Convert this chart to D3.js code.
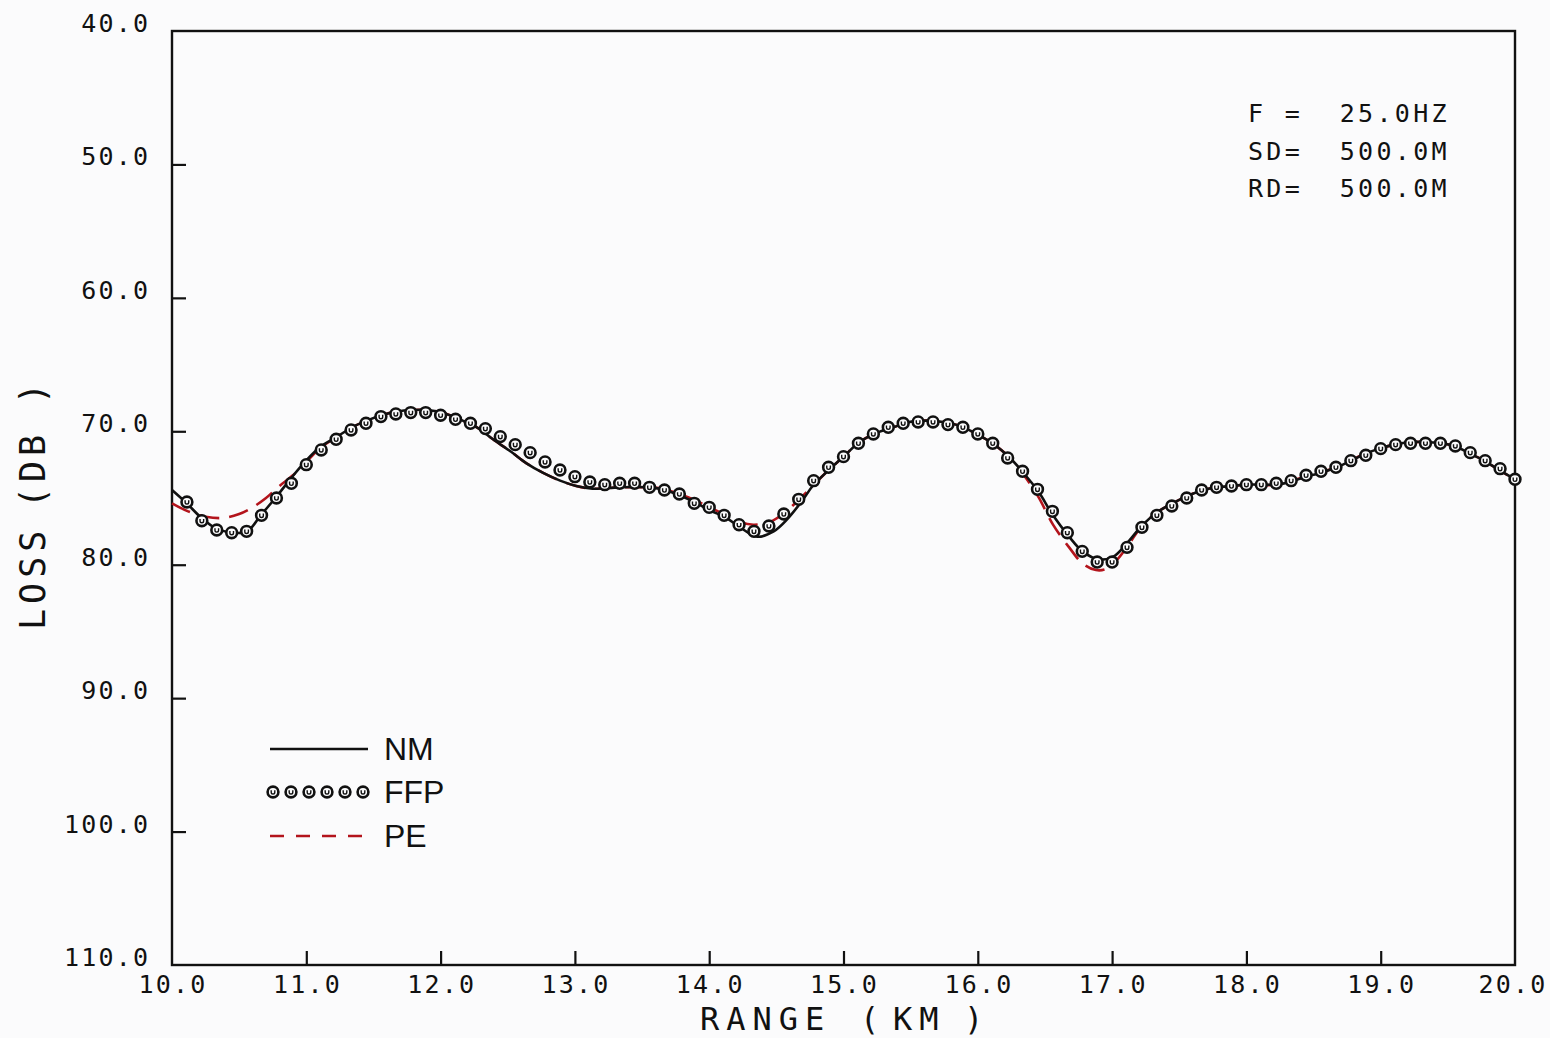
<!DOCTYPE html>
<html>
<head>
<meta charset="utf-8">
<script src="https://cdn.jsdelivr.net/npm/d3@7"></script>
<style>
  html, body { margin: 0; padding: 0; background: #fbfbfc; }
  svg { display: block; }
  .mono { font-family: "DejaVu Sans Mono", "Liberation Mono", monospace; fill: #111; }
  .sans { font-family: "Liberation Sans", Arial, sans-serif; fill: #111; }
</style>
</head>
<body>
<svg id="chart" width="1550" height="1038"></svg>
<script>
// Transmission loss vs range, three propagation models
const xTicks = [10, 11, 12, 13, 14, 15, 16, 17, 18, 19, 20];
const yTicks = [40, 50, 60, 70, 80, 90, 100, 110];

// Normal mode (NM) solution
const nmRange = [10.00,10.11,10.22,10.33,10.45,10.56,10.66,10.77,10.88,10.99,11.10,11.23,11.34,11.45,11.56,11.68,11.79,11.90,12.01,12.14,12.27,12.39,12.52,12.64,12.76,12.89,13.01,13.13,13.33,13.54,13.65,13.88,14.00,14.13,14.23,14.36,14.48,14.58,14.70,14.77,14.88,15.00,15.12,15.25,15.37,15.49,15.62,15.74,15.87,15.99,16.11,16.24,16.33,16.45,16.56,16.68,16.78,16.90,17.01,17.11,17.22,17.33,17.45,17.57,17.68,17.78,17.89,18.01,18.12,18.21,18.33,18.44,18.56,18.67,18.78,18.88,18.99,19.10,19.22,19.33,19.45,19.55,19.65,19.77,19.88,20.00];
const nmLoss = [74.4,75.4,76.5,77.3,77.6,77.5,76.3,75.0,73.6,72.3,71.2,70.4,69.7,69.2,68.8,68.5,68.4,68.4,68.6,69.1,69.7,70.6,71.5,72.4,73.1,73.7,74.1,74.3,74.2,74.2,74.35,75.25,75.9,76.5,77.2,77.9,77.5,76.6,75.1,74.1,73.0,71.9,70.8,70.1,69.7,69.3,69.2,69.3,69.6,70.2,70.9,72.0,73.0,74.5,76.3,77.9,79.0,79.6,79.4,78.4,77.1,76.1,75.4,74.8,74.4,74.2,74.1,74.0,74.0,74.0,73.8,73.4,73.1,72.7,72.2,71.7,71.3,71.0,70.8,70.8,70.9,71.1,71.6,72.2,72.9,73.6];

// Fast field program (FFP) samples, one every 1/9 km starting at 10 + 1/9 km
const ffpStart = 10;
const ffpStep = 1 / 9;
const ffpLoss = [75.3,76.7,77.4,77.6,77.5,76.3,75.0,73.9,72.5,71.4,70.6,69.9,69.4,68.9,68.7,68.6,68.6,68.8,69.1,69.4,69.8,70.4,71.0,71.6,72.3,72.9,73.4,73.8,74.0,73.9,73.9,74.2,74.4,74.7,75.4,75.7,76.3,77.0,77.5,77.1,76.2,75.1,73.7,72.7,71.9,70.9,70.2,69.7,69.4,69.3,69.3,69.5,69.7,70.2,70.9,72.0,73.0,74.35,76.0,77.6,79.0,79.8,79.8,78.7,77.2,76.3,75.6,75.0,74.4,74.2,74.1,74.0,74.0,73.9,73.7,73.3,73.0,72.7,72.2,71.8,71.3,71.0,70.9,70.9,70.9,71.1,71.6,72.2,72.8,73.6];

// Parabolic equation (PE) solution
const peRange = [10.00,10.12,10.25,10.38,10.50,10.60,10.70,10.80,10.90,11.00,11.10,11.23,11.34,11.45,11.56,11.68,11.79,11.90,12.01,12.14,12.27,12.39,12.52,12.64,12.76,12.89,13.01,13.13,13.33,13.54,13.65,13.88,14.00,14.13,14.23,14.33,14.45,14.55,14.66,14.77,14.88,15.00,15.12,15.25,15.37,15.49,15.62,15.74,15.87,15.99,16.11,16.24,16.33,16.45,16.56,16.68,16.78,16.88,16.96,17.04,17.13,17.22,17.33,17.45,17.57,17.68,17.78,17.89,18.01,18.21,18.44,18.67,18.88,19.10,19.33,19.55,19.65,19.77,19.88,20.00];
const peLoss = [75.4,76.0,76.4,76.5,76.2,75.7,75.0,74.1,73.3,72.3,71.3,70.4,69.7,69.2,68.8,68.5,68.4,68.4,68.6,69.1,69.7,70.6,71.5,72.4,73.1,73.7,74.1,74.3,74.2,74.2,74.3,75.1,75.7,76.3,76.8,77.0,76.8,76.2,75.2,74.1,73.0,71.9,70.8,70.1,69.7,69.3,69.2,69.3,69.6,70.2,70.9,72.0,73.1,74.9,77.0,78.7,79.9,80.4,80.3,79.6,78.4,77.1,76.1,75.4,74.8,74.4,74.2,74.1,74.0,74.0,73.4,72.7,71.7,71.0,70.8,71.1,71.6,72.2,72.9,73.6];

const legendNames = ["NM", "FFP", "PE"];
const infoLines = ["F =  25.0HZ", "SD=  500.0M", "RD=  500.0M"];

const INK = "#111";
const RED = "#b3141c";
const BG = "#fbfbfc";

const svg = d3.select("#chart");
const W = 1550, H = 1038;
const plot = { left: 172, right: 1515, top: 31, bottom: 965 };

svg.append("rect").attr("width", W).attr("height", H).attr("fill", BG);

const x = d3.scaleLinear().domain([10, 20]).range([plot.left, plot.right]);
const y = d3.scaleLinear().domain([40, 110]).range([plot.top, plot.bottom]);

const nm = nmRange.map((r, i) => ({ r, v: nmLoss[i] }));
const pe = peRange.map((r, i) => ({ r, v: peLoss[i] }));
const ffp = ffpLoss.map((v, i) => ({ r: ffpStart + (i + 1) * ffpStep, v }));

// Frame
svg.append("rect")
  .attr("x", plot.left).attr("y", plot.top)
  .attr("width", plot.right - plot.left).attr("height", plot.bottom - plot.top)
  .attr("fill", "none").attr("stroke", INK).attr("stroke-width", 2.4);

// Inward ticks on the left and bottom axes, labels drawn separately
const tickLen = 14;
const yAxis = d3.axisRight(y).tickValues(yTicks.slice(1, -1)).tickSize(tickLen).tickFormat("");
svg.append("g").attr("transform", `translate(${plot.left},0)`).call(yAxis)
  .call(g => g.select(".domain").remove())
  .call(g => g.selectAll("line").attr("stroke", INK).attr("stroke-width", 2.2));

const xAxis = d3.axisTop(x).tickValues(xTicks.slice(1, -1)).tickSize(tickLen).tickFormat("");
svg.append("g").attr("transform", `translate(0,${plot.bottom})`).call(xAxis)
  .call(g => g.select(".domain").remove())
  .call(g => g.selectAll("line").attr("stroke", INK).attr("stroke-width", 2.2));

// Tick labels
const tickFont = 25, tickSpacing = 2.2;
svg.append("g").selectAll("text").data(yTicks).join("text")
  .attr("class", "mono")
  .attr("x", 148 + tickSpacing)
  .attr("y", d => y(d) + 1)
  .attr("text-anchor", "end")
  .attr("font-size", tickFont)
  .attr("letter-spacing", tickSpacing)
  .text(d => d.toFixed(1));

svg.append("g").selectAll("text").data(xTicks).join("text")
  .attr("class", "mono")
  .attr("x", d => x(d) + tickSpacing / 2 - (d === 20 ? 3 : 0))
  .attr("y", 993)
  .attr("text-anchor", "middle")
  .attr("font-size", tickFont)
  .attr("letter-spacing", tickSpacing)
  .text(d => d.toFixed(1));

// Axis titles, laid out piece by piece like the pen-plotter lettering
const xTitle = svg.append("text").attr("class", "mono")
  .attr("y", 1030).attr("font-size", 32).attr("letter-spacing", 7);
[["RANGE", 700], ["(", 860], ["KM", 893], [")", 964]].forEach(([t, px]) =>
  xTitle.append("tspan").attr("x", px).text(t));

const yTitle = svg.append("text").attr("class", "mono")
  .attr("transform", "translate(45,0) rotate(-90)")
  .attr("font-size", 35).attr("letter-spacing", 5);
[["LOSS", 630], ["(", 508], ["DB", 482], [")", 404]].forEach(([t, py]) =>
  yTitle.append("tspan").attr("x", -py).text(t));

// Parameter block
svg.append("g").selectAll("text").data(infoLines).join("text")
  .attr("class", "mono")
  .attr("x", 1248)
  .attr("y", (d, i) => 122 + i * 37.5)
  .attr("font-size", 25)
  .attr("letter-spacing", 3.3)
  .style("white-space", "pre")
  .text(d => d);

// Curves
const line = d3.line()
  .x(d => x(d.r)).y(d => y(d.v))
  .curve(d3.curveCatmullRom.alpha(0.5));

svg.append("path").datum(pe)
  .attr("d", line)
  .attr("fill", "none").attr("stroke", RED)
  .attr("stroke-width", 2.6).attr("stroke-dasharray", "20,10");

svg.append("path").datum(nm)
  .attr("d", line)
  .attr("fill", "none").attr("stroke", INK)
  .attr("stroke-width", 2.6);

// FFP plotter symbol: small circle with a hook inside
function ffpMark(sel) {
  sel.append("circle").attr("r", 5.4)
    .attr("fill", BG).attr("stroke", INK).attr("stroke-width", 2.6);
  sel.append("path").attr("d", "M-1.8,-1.8 V0.3 A1.8,1.8 0 0 0 1.8,0.3 V-1.8")
    .attr("fill", "none").attr("stroke", INK).attr("stroke-width", 1.4);
}

svg.append("g").selectAll("g").data(ffp).join("g")
  .attr("transform", d => `translate(${x(d.r)},${y(d.v)})`)
  .call(ffpMark);

// Legend
const legend = svg.append("g");
const legY = [749, 792, 836];
legend.append("line")
  .attr("x1", 270).attr("x2", 368).attr("y1", legY[0]).attr("y2", legY[0])
  .attr("stroke", INK).attr("stroke-width", 2.6);
legend.append("g").selectAll("g").data(d3.range(6)).join("g")
  .attr("transform", i => `translate(${273 + i * 18},${legY[1]})`)
  .call(ffpMark);
legend.append("line")
  .attr("x1", 270).attr("x2", 366).attr("y1", legY[2]).attr("y2", legY[2])
  .attr("stroke", RED).attr("stroke-width", 2.6).attr("stroke-dasharray", "14,12");
legend.selectAll("text").data(legendNames).join("text")
  .attr("class", "sans")
  .attr("x", 384)
  .attr("y", (d, i) => legY[i] + 11)
  .attr("font-size", 32)
  .text(d => d);
</script>
</body>
</html>
